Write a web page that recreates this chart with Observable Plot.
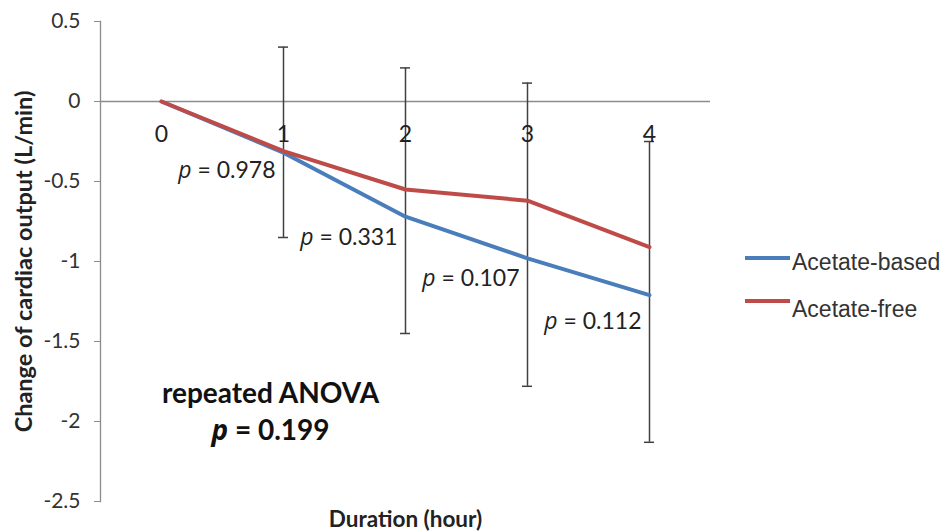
<!DOCTYPE html>
<html><head><meta charset="utf-8">
<script src="https://cdn.jsdelivr.net/npm/d3@7"></script>
<script src="https://cdn.jsdelivr.net/npm/@observablehq/plot@0.6"></script>
<style>
body{margin:0;background:#fff;}
#chart{position:relative;width:945px;height:531px;}
.lg-sw{position:absolute;left:745px;width:45px;height:4px;}
.lg-tx{position:absolute;left:792px;font-family:"Liberation Sans",Arial,sans-serif;font-size:23px;line-height:26px;color:#333;white-space:nowrap;}
</style></head><body><div id="chart"></div>
<script>
const hours = [0, 1, 2, 3, 4];
const acetateBased = [0, -0.32, -0.72, -0.98, -1.21];
const acetateFree = [0, -0.31, -0.55, -0.62, -0.91];
const errHours = [1, 2, 3, 4];
const errUpper = [0.34, 0.21, 0.115, -0.25];
const errLower = [-0.85, -1.45, -1.78, -2.13];
const pHours = [1, 2, 3, 4];
const pLabels = ["p = 0.978", "p = 0.331", "p = 0.107", "p = 0.112"];
const pY = [-0.43, -0.85, -1.105, -1.375];
const yTicks = [0.5, 0, -0.5, -1, -1.5, -2, -2.5];
const seriesNames = ["Acetate-based", "Acetate-free"];
const seriesColors = ["#4a7ebb", "#be4b48"];
const anovaLines = ["repeated ANOVA", "p = 0.199"];
const anovaY = [-1.83, -2.06];
const yTitle = "Change of cardiac output (L/min)";
const xTitle = "Duration (hour)";

const rows = [];
hours.forEach((h, i) => {
  rows.push({hour: h, value: acetateBased[i], series: seriesNames[0]});
});
hours.forEach((h, i) => {
  rows.push({hour: h, value: acetateFree[i], series: seriesNames[1]});
});
const errs = errHours.map((h, i) => ({hour: h, hi: errUpper[i], lo: errLower[i]}));
const pRows = pHours.map((h, i) => ({hour: h, label: pLabels[i], y: pY[i]}));
const anovaRows = anovaLines.map((t, i) => ({hour: 1, label: t, y: anovaY[i]}));

const font = "Lato, 'Open Sans', sans-serif";
const plot = Plot.plot({
  width: 945,
  height: 531,
  marginLeft: 100,
  marginRight: 235,
  marginTop: 21,
  marginBottom: 30,
  style: {fontFamily: font, fontSize: "21px", color: "#333", background: "white"},
  x: {type: "band", domain: hours, padding: 0, axis: null},
  y: {domain: [-2.5, 0.5], axis: null},
  color: {domain: seriesNames, range: seriesColors},
  marks: [
    Plot.ruleY([0], {stroke: "#8c8c8c", strokeWidth: 1.3}),
    Plot.frame({anchor: "left", stroke: "#8c8c8c", strokeWidth: 1.3}),
    Plot.axisY(yTicks, {tickSize: 6, tickPadding: 14, tickFormat: d => String(d), stroke: "#8c8c8c", fill: "#333", fontSize: 21}),
    Plot.ruleX(errs, {x: "hour", y1: "lo", y2: "hi", stroke: "#404040", strokeWidth: 1.5}),
    Plot.tickY(errs, {x: "hour", y: "hi", stroke: "#404040", strokeWidth: 1.5, insetLeft: 56, insetRight: 56}),
    Plot.tickY(errs, {x: "hour", y: "lo", stroke: "#404040", strokeWidth: 1.5, insetLeft: 56, insetRight: 56}),
    Plot.line(rows, {x: "hour", y: "value", stroke: "series", z: "series", strokeWidth: 4}),
    Plot.text(hours, {x: d => d, y: d => 0, dy: 33, text: d => String(d), fontSize: 23, fill: "#222"}),
    Plot.text(pRows, {x: "hour", y: "y", text: "label", textAnchor: "end", dx: -8, fontSize: 23, fill: "#222"}),
    Plot.text(anovaRows, {x: "hour", y: "y", text: "label", dx: -13, fontSize: 28, fontWeight: "bold", fill: "#111"}),
    Plot.text([yTitle], {frameAnchor: "left", textAnchor: "middle", dx: -76, rotate: -90, fontSize: 23.5, fontWeight: "bold", fill: "#222"}),
    Plot.text([xTitle], {frameAnchor: "bottom", textAnchor: "middle", dy: 25, fontSize: 22.5, fontWeight: "bold", fill: "#222"})
  ]
});

// italicize the leading "p" in statistical labels
const NS = "http://www.w3.org/2000/svg";
plot.querySelectorAll("text").forEach(t => {
  const s = t.textContent;
  if (s.startsWith("p = ")) {
    while (t.firstChild) t.removeChild(t.firstChild);
    const a = document.createElementNS(NS, "tspan");
    a.setAttribute("font-style", "italic");
    a.setAttribute("style", "font-style:italic");
    a.setAttribute("font-family", "'Open Sans', 'DejaVu Sans', sans-serif");
    a.textContent = "p";
    const b = document.createElementNS(NS, "tspan");
    b.textContent = s.slice(1);
    t.appendChild(a); t.appendChild(b);
  }
});

const chart = document.getElementById("chart");
chart.appendChild(plot);
const legendTops = [256, 299];
const textTops = [249, 296];
seriesNames.forEach((n, i) => {
  const sw = document.createElement("div");
  sw.className = "lg-sw";
  sw.style.top = legendTops[i] + "px";
  sw.style.background = seriesColors[i];
  chart.appendChild(sw);
  const tx = document.createElement("div");
  tx.className = "lg-tx";
  tx.style.top = textTops[i] + "px";
  tx.textContent = n;
  chart.appendChild(tx);
});
</script></body></html>
